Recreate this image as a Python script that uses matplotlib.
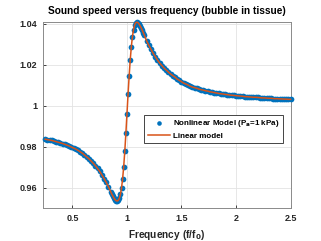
import matplotlib
matplotlib.use("Agg")
import matplotlib.pyplot as plt

plt.rcParams["font.family"] = ["Liberation Sans", "DejaVu Sans"]
plt.rcParams["font.weight"] = "bold"

# frequency (f/f0) and normalised sound speed
freq = [0.25, 0.27, 0.29, 0.31, 0.33, 0.35, 0.37, 0.39, 0.41, 0.43,
        0.45, 0.47, 0.49, 0.51, 0.53, 0.55, 0.57, 0.59, 0.61, 0.63,
        0.65, 0.67, 0.69, 0.71, 0.73, 0.75, 0.77, 0.79, 0.81, 0.83,
        0.85, 0.86, 0.87, 0.88, 0.89, 0.90, 0.91, 0.92, 0.93, 0.94,
        0.95, 0.96, 0.97, 0.98, 0.99, 1.00, 1.01, 1.02, 1.03, 1.04,
        1.05, 1.06, 1.07, 1.08, 1.09, 1.10, 1.11, 1.12, 1.13, 1.14,
        1.15, 1.16, 1.18, 1.20, 1.22, 1.24, 1.26, 1.28, 1.30, 1.32,
        1.34, 1.36, 1.38, 1.40, 1.42, 1.44, 1.46, 1.48, 1.50, 1.52,
        1.54, 1.56, 1.58, 1.60, 1.62, 1.64, 1.66, 1.68, 1.70, 1.72,
        1.74, 1.76, 1.78, 1.80, 1.82, 1.84, 1.86, 1.88, 1.90, 1.92,
        1.94, 1.96, 1.98, 2.00, 2.02, 2.04, 2.06, 2.08, 2.10, 2.12,
        2.14, 2.16, 2.18, 2.20, 2.22, 2.24, 2.26, 2.28, 2.30, 2.32,
        2.34, 2.36, 2.38, 2.40, 2.42, 2.44, 2.46, 2.48, 2.50]

c_nonlinear = [0.9836, 0.9834, 0.9832, 0.9830, 0.9827, 0.9824, 0.9821, 0.9818, 0.9815, 0.9811,
               0.9807, 0.9803, 0.9798, 0.9793, 0.9788, 0.9782, 0.9775, 0.9768, 0.9759, 0.9750,
               0.9741, 0.9730, 0.9719, 0.9707, 0.9693, 0.9679, 0.9662, 0.9644, 0.9625, 0.9604,
               0.9580, 0.9569, 0.9559, 0.9549, 0.9541, 0.9536, 0.9534, 0.9537, 0.9547, 0.9567,
               0.9597, 0.9642, 0.9702, 0.9777, 0.9864, 0.9961, 1.0056, 1.0145, 1.0224, 1.0288,
               1.0337, 1.0372, 1.0394, 1.0405, 1.0408, 1.0406, 1.0400, 1.0391, 1.0381, 1.0369,
               1.0357, 1.0344, 1.0317, 1.0295, 1.0275, 1.0256, 1.0239, 1.0223, 1.0208, 1.0196,
               1.0184, 1.0174, 1.0164, 1.0155, 1.0147, 1.0140, 1.0130, 1.0124, 1.0117, 1.0110,
               1.0106, 1.0101, 1.0095, 1.0091, 1.0088, 1.0085, 1.0081, 1.0078, 1.0076, 1.0073,
               1.0071, 1.0068, 1.0066, 1.0064, 1.0062, 1.0060, 1.0058, 1.0057, 1.0055, 1.0054,
               1.0052, 1.0051, 1.0050, 1.0049, 1.0048, 1.0047, 1.0046, 1.0044, 1.0044, 1.0043,
               1.0042, 1.0041, 1.0041, 1.0040, 1.0039, 1.0038, 1.0038, 1.0037, 1.0036, 1.0036,
               1.0035, 1.0034, 1.0034, 1.0033, 1.0033, 1.0032, 1.0032, 1.0031, 1.0031]

# linear model lies on top of the nonlinear points in the picture
c_linear = list(c_nonlinear)

xticks = [0.5, 1, 1.5, 2, 2.5]
xtick_labels = ["0.5", "1", "1.5", "2", "2.5"]
yticks = [0.96, 0.98, 1.0, 1.02, 1.04]
ytick_labels = ["0.96", "0.98", "1", "1.02", "1.04"]

fig = plt.figure(figsize=(3.21, 2.41), dpi=100)
ax = fig.add_axes([0.134, 0.137, 0.771, 0.771])

ax.scatter(freq, c_nonlinear, s=17, color="#0072BD", linewidths=0,
           label="Nonlinear Model (P$_\\mathbf{a}$=1 kPa)", zorder=3, clip_on=False)
ax.plot(freq, c_linear, color="#D95319", lw=1.1, label="Linear model", zorder=4,
        clip_on=False)

ax.set_xlim(0.23, 2.5)
ax.set_ylim(0.95, 1.0408)
ax.set_xticks(xticks)
ax.set_xticklabels(xtick_labels)
ax.set_yticks(yticks)
ax.set_yticklabels(ytick_labels)
ax.tick_params(direction="in", length=2.5, width=0.6, labelsize=6.5,
               colors="#262626", pad=4)
ax.grid(True, color="#e3e3e3", lw=0.6)
ax.set_axisbelow(True)
for s in ax.spines.values():
    s.set_color("#8a8a8a")
    s.set_linewidth(0.7)

ax.set_title("Sound speed versus frequency (bubble in tissue)", fontsize=7.3,
             fontweight="bold", pad=6)
ax.set_xlabel("Frequency (f/f$_\\mathbf{0}$)", fontsize=7.3, fontweight="bold",
              color="#262626", labelpad=4)

leg = ax.legend(loc="upper right", bbox_to_anchor=(0.97, 0.50), borderaxespad=0,
                fontsize=5.8, fancybox=False, framealpha=1, edgecolor="#262626",
                handlelength=2.8, handletextpad=0.4, borderpad=0.4,
                labelspacing=0.35, markerscale=0.8)
leg.get_frame().set_linewidth(0.6)

fig.savefig("out.png", dpi=100)
